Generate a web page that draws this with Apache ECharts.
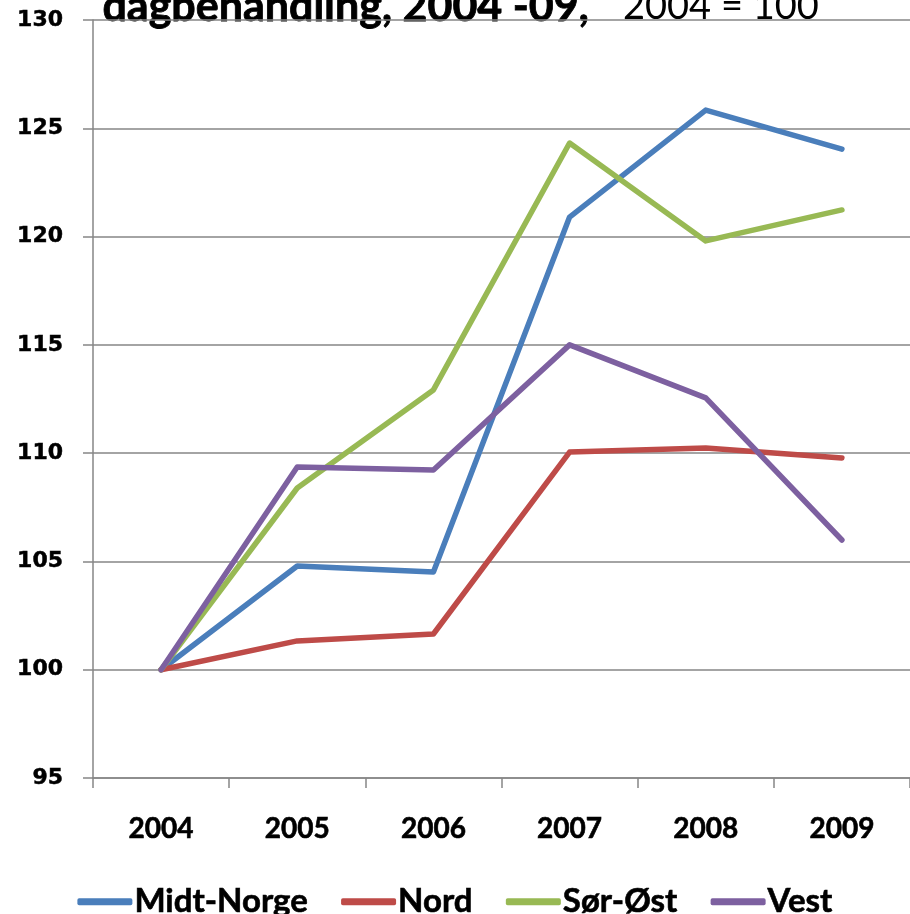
<!DOCTYPE html>
<html><head><meta charset="utf-8">
<script src="https://cdn.jsdelivr.net/npm/echarts@6/dist/echarts.min.js"></script>
<style>html,body{margin:0;padding:0;background:#fff}#c{width:910px;height:914px}</style>
</head><body><div id="c"></div>
<script>
const years = ['2004','2005','2006','2007','2008','2009'];
const midtNorge = [100, 104.79, 104.51, 120.9, 125.84, 124.04];
const nord = [100, 101.33, 101.65, 110.05, 110.24, 109.78];
const sorOst = [100, 108.39, 112.92, 124.32, 119.8, 121.23];
const vest = [100, 109.36, 109.22, 115.0, 112.55, 105.99];
const seriesNames = ['Midt-Norge', 'Nord', 'Sør-Øst', 'Vest'];
const colors = ['#4a7ebb', '#be4b48', '#98b954', '#7d60a0'];
const titleBold = 'dagbehandling, 2004 -09,';
const titleNormal = '2004 = 100';

const chart = echarts.init(document.getElementById('c'), null, {renderer: 'canvas'});
const dataList = [midtNorge, nord, sorOst, vest];
chart.setOption({
  animation: false,
  backgroundColor: '#fff',
  graphic: [
    {type: 'text', left: 102, top: -15, style: {text: titleBold, font: 'bold 43px Lato', fill: '#000', stroke: '#000', lineWidth: 0.8}},
    {type: 'text', left: 623, top: -12, style: {text: titleNormal, font: '38px Lato', fill: '#000'}}
  ],
  legend: {
    data: seriesNames,
    top: 880, left: 'center',
    itemWidth: 55, itemHeight: 7, itemGap: 33,
    icon: 'roundRect',
    textStyle: {fontFamily: 'Lato', fontWeight: 'bold', fontSize: 33, color: '#000', textBorderColor: '#000', textBorderWidth: 0.6, padding: [0,0,0,-3]}
  },
  grid: {left: 93, top: 20, width: 824, height: 758, containLabel: false},
  xAxis: {
    type: 'category', data: years, boundaryGap: true,
    axisLine: {lineStyle: {color: '#868686', width: 1.5}},
    axisTick: {show: true, length: 10, lineStyle: {color: '#868686', width: 1.5}},
    axisLabel: {margin: 37, fontFamily: 'Lato', fontWeight: 'bold', fontSize: 28, color: '#000', textBorderColor: '#000', textBorderWidth: 0.6}
  },
  yAxis: {
    type: 'value', min: 95, max: 130, interval: 5,
    axisLine: {show: true, lineStyle: {color: '#868686', width: 1.5}},
    axisTick: {show: true, length: 10, lineStyle: {color: '#868686', width: 1.5}},
    splitLine: {show: true, lineStyle: {color: '#868686', width: 1.5}},
    axisLabel: {margin: 30, fontFamily: 'DejaVu Sans', fontWeight: 'bold', fontSize: 22, color: '#000', textBorderColor: '#000', textBorderWidth: 0.5}
  },
  series: seriesNames.map((n, i) => ({
    name: n, type: 'line', data: dataList[i], showSymbol: false, symbol: 'none',
    color: colors[i],
    lineStyle: {width: 5.5, color: colors[i], cap: 'round', join: 'round'}
  }))
});
</script></body></html>
